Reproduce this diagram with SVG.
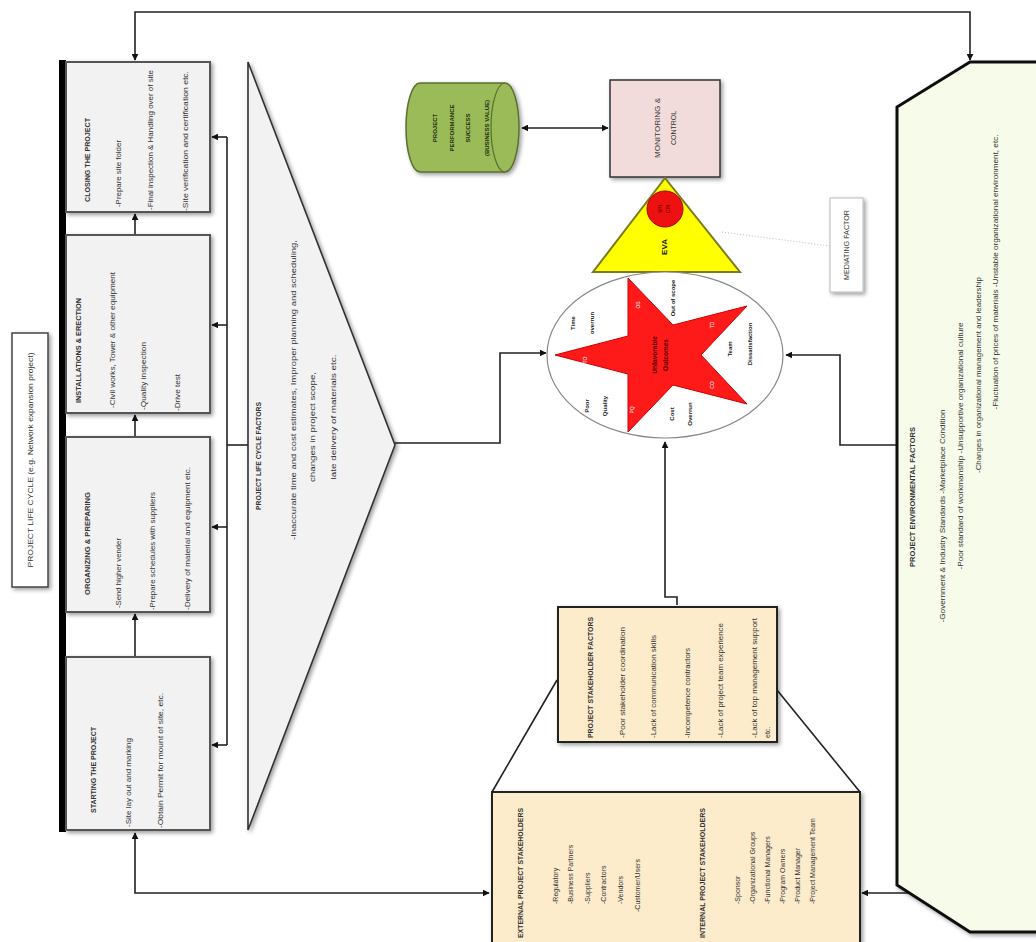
<svg xmlns="http://www.w3.org/2000/svg" width="1036" height="942" viewBox="0 0 1036 942">
<style>
.t{font-family:"Liberation Sans Narrow","Liberation Sans",Arial,sans-serif;fill:#333;font-size:8px}
.b{font-weight:bold}
.box{fill:#f2f2f2;stroke:#555;stroke-width:2}
.sh{fill:#fdeccb;stroke:#222;stroke-width:2}
.c{fill:none;stroke:#222;stroke-width:1.6}
.m{text-anchor:middle}
</style>
<defs>
<marker id="ar" viewBox="0 0 10 10" refX="9" refY="5" markerWidth="7" markerHeight="7" orient="auto-start-reverse" markerUnits="userSpaceOnUse"><path d="M0,0L10,5L0,10z" fill="#111"/></marker>
<filter id="ds" x="-10%" y="-10%" width="130%" height="130%"><feGaussianBlur in="SourceAlpha" stdDeviation="2"/><feOffset dx="2" dy="2"/><feComponentTransfer><feFuncA type="linear" slope="0.4"/></feComponentTransfer><feMerge><feMergeNode/><feMergeNode in="SourceGraphic"/></feMerge></filter>
</defs>
<rect width="1036" height="942" fill="#fff"/>

<g id="connectors">
<path class="c" d="M135,60V12H970V60" marker-start="url(#ar)" marker-end="url(#ar)"/>
<path class="c" d="M135,657V614" marker-end="url(#ar)"/>
<path class="c" d="M135,437V415" marker-end="url(#ar)"/>
<path class="c" d="M135,235V214" marker-end="url(#ar)"/>
<path class="c" d="M227,137V745"/>
<path class="c" d="M227,137H212" marker-end="url(#ar)"/>
<path class="c" d="M227,325H212" marker-end="url(#ar)"/>
<path class="c" d="M227,527H212" marker-end="url(#ar)"/>
<path class="c" d="M227,745H212" marker-end="url(#ar)"/>
<path class="c" d="M227,445H248"/>
<path class="c" d="M395,443H500V353H546" marker-end="url(#ar)"/>
<path class="c" d="M897,445H840V355H786" marker-end="url(#ar)"/>
<path class="c" d="M677,605V597H665V442" marker-end="url(#ar)"/>
<path class="c" d="M522,128H608" marker-start="url(#ar)" marker-end="url(#ar)"/>
<path class="c" d="M135,833V893H489" marker-start="url(#ar)" marker-end="url(#ar)"/>
<path class="c" d="M862,893H970V880" marker-start="url(#ar)" marker-end="url(#ar)"/>
<path class="c" d="M557,680L492,792M777,690L860,792" stroke-width="1.2"/>
<path d="M722,232L830,246" fill="none" stroke="#bbb" stroke-width="1" stroke-dasharray="1,2"/>
</g>

<g id="lifecycle-label">
<rect x="12" y="333" width="36" height="254" fill="#fff" stroke="#444" stroke-width="1.5" filter="url(#ds)"/>
<text class="t m" transform="translate(33,460) rotate(-90)" textLength="215" lengthAdjust="spacingAndGlyphs">PROJECT LIFE CYCLE (e.g. Network expansion project)</text>
</g>

<rect x="59" y="60" width="7" height="772" fill="#000"/>

<g id="closing">
<rect class="box" x="66" y="62" width="144" height="150" filter="url(#ds)"/>
<text class="t b" transform="translate(90,202) rotate(-90)" textLength="84" lengthAdjust="spacingAndGlyphs">CLOSING THE PROJECT</text>
<text class="t" transform="translate(121,207) rotate(-90)" textLength="67" lengthAdjust="spacingAndGlyphs">-Prepare site folder</text>
<text class="t" transform="translate(153,210) rotate(-90)" textLength="140" lengthAdjust="spacingAndGlyphs">-Final inspection &amp; Handling over of site</text>
<text class="t" transform="translate(188,211) rotate(-90)" textLength="140" lengthAdjust="spacingAndGlyphs">-Site verification and certification etc.</text>
</g>

<g id="installations">
<rect class="box" x="66" y="235" width="144" height="178" filter="url(#ds)"/>
<text class="t b" transform="translate(81,403) rotate(-90)" textLength="105" lengthAdjust="spacingAndGlyphs">INSTALLATIONS &amp; ERECTION</text>
<text class="t" transform="translate(115,408) rotate(-90)" textLength="136" lengthAdjust="spacingAndGlyphs">-Civil works, Tower &amp; other equipment</text>
<text class="t" transform="translate(146,410) rotate(-90)" textLength="68" lengthAdjust="spacingAndGlyphs">-Quality inspection</text>
<text class="t" transform="translate(180,411) rotate(-90)" textLength="37" lengthAdjust="spacingAndGlyphs">-Drive test</text>
</g>

<g id="organizing">
<rect class="box" x="66" y="437" width="144" height="175" filter="url(#ds)"/>
<text class="t b" transform="translate(90,595) rotate(-90)" textLength="103" lengthAdjust="spacingAndGlyphs">ORGANIZING &amp; PREPARING</text>
<text class="t" transform="translate(121,608) rotate(-90)" textLength="70" lengthAdjust="spacingAndGlyphs">-Send higher vender</text>
<text class="t" transform="translate(155,610) rotate(-90)" textLength="118" lengthAdjust="spacingAndGlyphs">-Prepare schedules with suppliers</text>
<text class="t" transform="translate(190,610) rotate(-90)" textLength="143" lengthAdjust="spacingAndGlyphs">-Delivery of material and equipment etc.</text>
</g>

<g id="starting">
<rect class="box" x="66" y="657" width="144" height="173" filter="url(#ds)"/>
<text class="t b" transform="translate(96,813) rotate(-90)" textLength="86" lengthAdjust="spacingAndGlyphs">STARTING THE PROJECT</text>
<text class="t" transform="translate(131,827) rotate(-90)" textLength="89" lengthAdjust="spacingAndGlyphs">-Site lay out and marking</text>
<text class="t" transform="translate(163,828) rotate(-90)" textLength="135" lengthAdjust="spacingAndGlyphs">-Obtain Permit for mount of site, etc.</text>
</g>

<g id="lifecycle-factors">
<path d="M248,62L395,445L248,830Z" fill="#f2f2f2" stroke="#333" stroke-width="1.6" filter="url(#ds)"/>
<text class="t m b" transform="translate(261,456) rotate(-90)" textLength="108" lengthAdjust="spacingAndGlyphs">PROJECT LIFE CYCLE FACTORS</text>
<text class="t m" transform="translate(296,390) rotate(-90)" textLength="300" lengthAdjust="spacingAndGlyphs">-Inaccurate time and cost estimates, Improper planning and scheduling,</text>
<text class="t m" transform="translate(315,427) rotate(-90)" textLength="110" lengthAdjust="spacingAndGlyphs">changes in project scope,</text>
<text class="t m" transform="translate(336,417) rotate(-90)" textLength="125" lengthAdjust="spacingAndGlyphs">late delivery of materials etc.</text>
</g>

<g id="performance">
<path d="M420,83H505A14,44.5 0 0 1 505,172H420A14,44.5 0 0 1 420,83Z" fill="#9bbb59" stroke="#5a7030" stroke-width="1.5" filter="url(#ds)"/>
<path d="M505,83A14,44.5 0 0 0 505,172" fill="none" stroke="#5a7030" stroke-width="1.2"/>
<text class="t m b" style="font-size:6px;fill:#203010" transform="translate(437,128) rotate(-90)">PROJECT</text>
<text class="t m b" style="font-size:6px;fill:#203010" transform="translate(454,128) rotate(-90)">PERFORMANCE</text>
<text class="t m b" style="font-size:6px;fill:#203010" transform="translate(470,128) rotate(-90)">SUCCESS</text>
<text class="t m b" style="font-size:6px;fill:#203010" transform="translate(489,128) rotate(-90)">(BUSINESS VALUE)</text>
</g>

<g id="monitoring">
<rect x="610" y="80" width="110" height="97" fill="#f2dcdb" stroke="#333" stroke-width="1.5" filter="url(#ds)"/>
<text class="t m" style="font-size:7px" transform="translate(660,128) rotate(-90)" textLength="60" lengthAdjust="spacingAndGlyphs">MONITORING &amp;</text>
<text class="t m" style="font-size:7px" transform="translate(676,128) rotate(-90)">CONTROL</text>
</g>

<g id="eva">
<path d="M665,178L740,272H593Z" fill="#ffff00" stroke="#7a7a20" stroke-width="2"/>
<circle cx="665" cy="209" r="18" fill="#ee1111" stroke="#aa0000" stroke-width="1"/>
<text class="t m" style="font-size:5px;fill:#400" transform="translate(662,209) rotate(-90)">SPI</text>
<text class="t m" style="font-size:5px;fill:#400" transform="translate(670,209) rotate(-90)">CPI</text>
<text class="t m b" style="font-size:8px;fill:#222" transform="translate(667,247) rotate(-90)">EVA</text>
</g>

<g id="mediating">
<rect x="830" y="198" width="33" height="94" fill="#fff" stroke="#bbb" stroke-width="1" filter="url(#ds)"/>
<text class="t m" style="font-size:6.5px" transform="translate(849,245) rotate(-90)" textLength="70" lengthAdjust="spacingAndGlyphs">MEDIATING FACTOR</text>
</g>

<g id="outcomes">
<ellipse cx="665" cy="355" rx="118" ry="83" fill="#fff" stroke="#888" stroke-width="1.2"/>
<path d="M555,355L628,336L628,278L673,325L747,306L701,355L747,404L673,385L628,432L628,374Z" fill="#ff1a1a" stroke="#c00" stroke-width="1"/>
<text class="t m b" style="font-size:6.5px;fill:#500" transform="translate(657,355) rotate(-90)">Unfavorable</text>
<text class="t m b" style="font-size:6.5px;fill:#500" transform="translate(668,355) rotate(-90)">Outcomes</text>
<g class="t b" style="font-size:6px;fill:#222">
<text class="m" transform="translate(575,323) rotate(-90)">Time</text>
<text class="m" transform="translate(594,323) rotate(-90)">overrun</text>
<text class="m" transform="translate(589,406) rotate(-90)">Poor</text>
<text class="m" transform="translate(607,406) rotate(-90)">Quality</text>
<text class="m" transform="translate(674,414) rotate(-90)">Cost</text>
<text class="m" transform="translate(692,414) rotate(-90)">Overrun</text>
<text class="m" transform="translate(732,349) rotate(-90)">Team</text>
<text class="m" transform="translate(752,344) rotate(-90)">Dissatisfaction</text>
<text class="m" transform="translate(675,298) rotate(-90)">Out of scope</text>
</g>
<g class="t" style="font-size:5px;fill:#fff">
<text class="m" transform="translate(640,305) rotate(-90)">OS</text>
<text class="m" transform="translate(587,360) rotate(-90)">TO</text>
<text class="m" transform="translate(634,410) rotate(-90)">PQ</text>
<text class="m" transform="translate(714,385) rotate(-90)">CO</text>
<text class="m" transform="translate(714,325) rotate(-90)">TD</text>
</g>
</g>

<g id="environment">
<path d="M970,62H1040V932H970L897,885V107Z" fill="#f6fbea" stroke="#111" stroke-width="3" filter="url(#ds)"/>
<text class="t m b" transform="translate(915,497) rotate(-90)" textLength="140" lengthAdjust="spacingAndGlyphs">PROJECT ENVIRONMENTAL FACTORS</text>
<text class="t m" style="font-size:7px" transform="translate(945,516) rotate(-90)" textLength="213" lengthAdjust="spacingAndGlyphs">-Government &amp; Industry Standards     -Marketplace Condition</text>
<text class="t m" style="font-size:7px" transform="translate(963,446) rotate(-90)" textLength="247" lengthAdjust="spacingAndGlyphs">-Poor standard of workmanship   -Unsupportive organizational culture</text>
<text class="t m" style="font-size:7px" transform="translate(981,375) rotate(-90)" textLength="196" lengthAdjust="spacingAndGlyphs">-Changes in organizational management and leadership</text>
<text class="t m" style="font-size:7px" transform="translate(998,272) rotate(-90)" textLength="275" lengthAdjust="spacingAndGlyphs">-Fluctuation of prices of materials -Unstable organizational environment, etc.</text>
</g>

<g id="stakeholder-factors">
<rect class="sh" x="558" y="607" width="219" height="135" filter="url(#ds)"/>
<g class="t" style="font-size:7px">
<text class="b" transform="translate(593,738) rotate(-90)" textLength="121" lengthAdjust="spacingAndGlyphs">PROJECT STAKEHOLDER FACTORS</text>
<text transform="translate(625,738) rotate(-90)" textLength="111" lengthAdjust="spacingAndGlyphs">-Poor stakeholder coordination</text>
<text transform="translate(656,738) rotate(-90)" textLength="103" lengthAdjust="spacingAndGlyphs">-Lack of communication skills</text>
<text transform="translate(690,738) rotate(-90)" textLength="90" lengthAdjust="spacingAndGlyphs">-Incompetence contractors</text>
<text transform="translate(723,738) rotate(-90)" textLength="115" lengthAdjust="spacingAndGlyphs">-Lack of project team experience</text>
<text transform="translate(757,738) rotate(-90)" textLength="120" lengthAdjust="spacingAndGlyphs">-Lack of top management support</text>
<text transform="translate(770,738) rotate(-90)">etc.</text>
</g>
</g>

<g id="stakeholders">
<rect class="sh" x="492" y="792" width="368" height="160" filter="url(#ds)"/>
<g class="t" style="font-size:7px">
<text class="b" transform="translate(523,938) rotate(-90)" textLength="130" lengthAdjust="spacingAndGlyphs">EXTERNAL PROJECT STAKEHOLDERS</text>
<text transform="translate(558,904) rotate(-90)">-Regulatory</text>
<text transform="translate(573,904) rotate(-90)">-Business Partners</text>
<text transform="translate(590,904) rotate(-90)">-Suppliers</text>
<text transform="translate(606,904) rotate(-90)">-Contractors</text>
<text transform="translate(623,904) rotate(-90)">-Vendors</text>
<text transform="translate(640,912) rotate(-90)">-Customer/Users</text>
<text class="b" transform="translate(705,938) rotate(-90)" textLength="130" lengthAdjust="spacingAndGlyphs">INTERNAL PROJECT STAKEHOLDERS</text>
<text transform="translate(740,904) rotate(-90)">-Sponsor</text>
<text transform="translate(755,904) rotate(-90)">-Organizational Groups</text>
<text transform="translate(770,904) rotate(-90)">-Functional Managers</text>
<text transform="translate(785,904) rotate(-90)">-Program Owners</text>
<text transform="translate(800,904) rotate(-90)">-Product Manager</text>
<text transform="translate(815,904) rotate(-90)">-Project Management Team</text>
</g>
</g>
</svg>
